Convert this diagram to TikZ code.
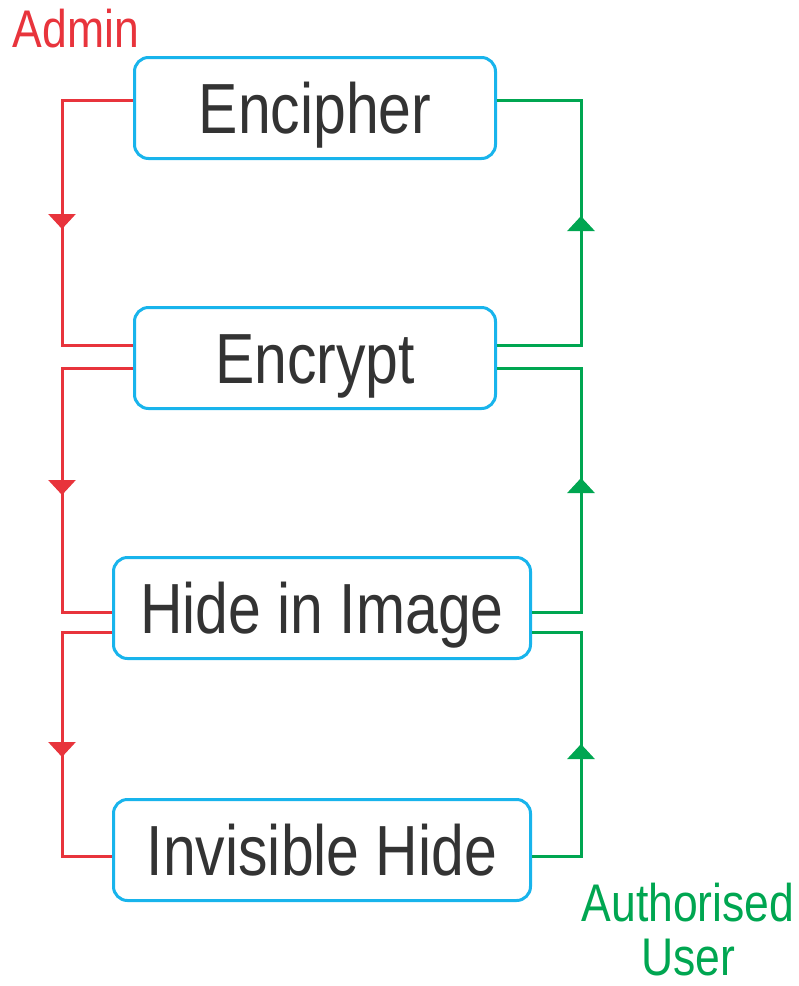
\documentclass[tikz,border=0pt]{standalone}
\usepackage{fontspec}
\usepackage{tikz}
\usetikzlibrary{arrows.meta,decorations.markings}
\newfontfamily\boxfont[FakeStretch=0.83]{Liberation Sans}
\newfontfamily\tagfont[FakeStretch=0.84]{Liberation Sans}
\definecolor{admred}{HTML}{E8343C}
\definecolor{usrgreen}{HTML}{00A651}
\definecolor{boxcyan}{HTML}{18B4EC}
\definecolor{boxtext}{HTML}{333333}
\tikzset{
  stepbox/.style={rectangle, rounded corners=14pt, draw=boxcyan, line width=3pt, fill=white, text=boxtext, minimum height=101pt, inner sep=0pt, text height=51pt, text depth=0pt, font=\boxfont\fontsize{71pt}{80pt}\selectfont},
  adminline/.style={draw=admred, line width=3pt},
  userline/.style={draw=usrgreen, line width=3pt},
  midtip/.style={postaction={decorate}, decoration={markings, mark=at position #1 with {\arrow{Triangle[length=15pt, width=27pt]}}}},
  tag/.style={font=\tagfont\fontsize{53pt}{54pt}\selectfont, inner sep=0pt, align=center}
}
\begin{document}
\begin{tikzpicture}[x=1pt, y=-1pt]
\useasboundingbox (0,0) rectangle (799,986);
\node[stepbox, minimum width=361pt] (encipher) at (315,108) {Encipher};
\node[stepbox, minimum width=361pt] (encrypt) at (315,358) {Encrypt};
\node[stepbox, minimum width=417pt] (hide) at (322,608) {Hide in Image};
\node[stepbox, minimum width=417pt] (invisible) at (322,850) {Invisible Hide};
\node[tag, text=admred, anchor=base] (admin) at (76,47) {Admin};
\node[tag, text=usrgreen] (user) at (688,930) {Authorised\\User};
% admin path, downwards
\draw[adminline, midtip=200pt] ([yshift=8pt]encipher.west) -| (62,222) |- ([yshift=13pt]encrypt.west);
\draw[adminline, midtip=198pt] ([yshift=-10pt]encrypt.west) -| (62,490) |- ([yshift=-4pt]hide.west);
\draw[adminline, midtip=175pt] ([yshift=-24pt]hide.west) -| (62,744) |- ([yshift=-6pt]invisible.west);
% user path, upwards
\draw[userline, midtip=213pt] ([yshift=13pt]encrypt.east) -| (581,222) |- ([yshift=8pt]encipher.east);
\draw[userline, midtip=183pt] ([yshift=-4pt]hide.east) -| (581,490) |- ([yshift=-10pt]encrypt.east);
\draw[userline, midtip=161pt] ([yshift=-6pt]invisible.east) -| (581,744) |- ([yshift=-24pt]hide.east);
\end{tikzpicture}
\end{document}
